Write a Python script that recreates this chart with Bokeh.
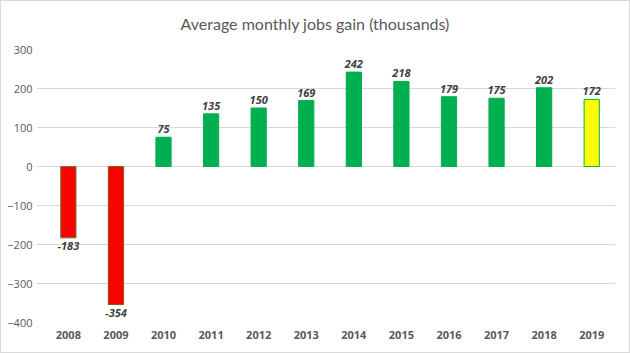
from bokeh.plotting import figure
from bokeh.models import ColumnDataSource, Range1d, FixedTicker, Div
from bokeh.layouts import column
from bokeh.core.properties import value
from bokeh.embed import file_html
from bokeh.resources import INLINE

years = ["2008", "2009", "2010", "2011", "2012", "2013", "2014", "2015", "2016", "2017", "2018", "2019"]
gains = [-183, -354, 75, 135, 150, 169, 242, 218, 179, 175, 202, 172]
fills = ["#FF0000", "#FF0000"] + ["#00B050"] * 9 + ["#FFFF00"]
outlines = ["#548235", "#7F6000"] + ["#00B050"] * 9 + ["#00B050"]
y_ticks = [-400, -300, -200, -100, 0, 100, 200, 300]
title_text = "Average monthly jobs gain (thousands)"

xs = list(range(len(years)))
src = ColumnDataSource(dict(
    x=xs, top=[max(g, 0) for g in gains], bottom=[min(g, 0) for g in gains],
    fill=fills, line=outlines,
))
pos = ColumnDataSource(dict(x=[x for x, g in zip(xs, gains) if g >= 0],
                            y=[g for g in gains if g >= 0],
                            t=[str(g) for g in gains if g >= 0]))
neg = ColumnDataSource(dict(x=[x for x, g in zip(xs, gains) if g < 0],
                            y=[g for g in gains if g < 0],
                            t=[str(g) for g in gains if g < 0]))

title_div = Div(text=title_text, width=630, height=42, margin=(0, 0, 0, 0),
                styles={"font-family": "Lato", "font-size": "16px", "color": "#595959",
                        "text-align": "center", "line-height": "46px",
                        "border": "1px solid #D9D9D9", "border-bottom": "none",
                        "box-sizing": "border-box", "background": "white"})

p = figure(width=630, height=311, output_backend="svg", toolbar_location=None,
           x_range=Range1d(-0.67, 11.5), y_range=Range1d(-400, 300),
           min_border_left=35, min_border_right=16, min_border_top=7, min_border_bottom=31,
           margin=(0, 0, 0, 0))
p.title = None

p.vbar(x="x", top="top", bottom="bottom", width=0.32, fill_color="fill",
       line_color="line", line_width=1, source=src)

p.text(x="x", y="y", text="t", source=pos, text_align="center", text_baseline="bottom",
       y_offset=-4, text_font=value("Open Sans"), text_font_style="bold italic",
       text_font_size="11px", text_color="#404040")
p.text(x="x", y="y", text="t", source=neg, text_align="center", text_baseline="top",
       y_offset=4, text_font=value("Open Sans"), text_font_style="bold italic",
       text_font_size="11px", text_color="#404040")

p.xaxis.ticker = FixedTicker(ticks=xs)
p.xaxis.major_label_overrides = {i: y for i, y in enumerate(years)}
p.yaxis.ticker = FixedTicker(ticks=y_ticks)
for ax in (p.xaxis, p.yaxis):
    ax.axis_line_color = None
    ax.major_tick_line_color = None
    ax.minor_tick_line_color = None
    ax.major_tick_out = 0
    ax.major_tick_in = 0
    ax.major_label_text_color = "#595959"
    ax.major_label_text_font = "Open Sans"
    ax.major_label_text_font_size = "11px"
p.xaxis.major_label_text_font_style = "bold"
p.xaxis.major_label_standoff = 8
p.yaxis.major_label_standoff = 4
p.xgrid.grid_line_color = None
p.ygrid.grid_line_color = "#D9D9D9"
p.ygrid.ticker = FixedTicker(ticks=y_ticks)
p.outline_line_color = None
p.styles = {"border": "1px solid #D9D9D9", "border-top": "none", "box-sizing": "border-box"}

layout = column(title_div, p, spacing=0)
open("out.html", "w").write(file_html(layout, INLINE))
